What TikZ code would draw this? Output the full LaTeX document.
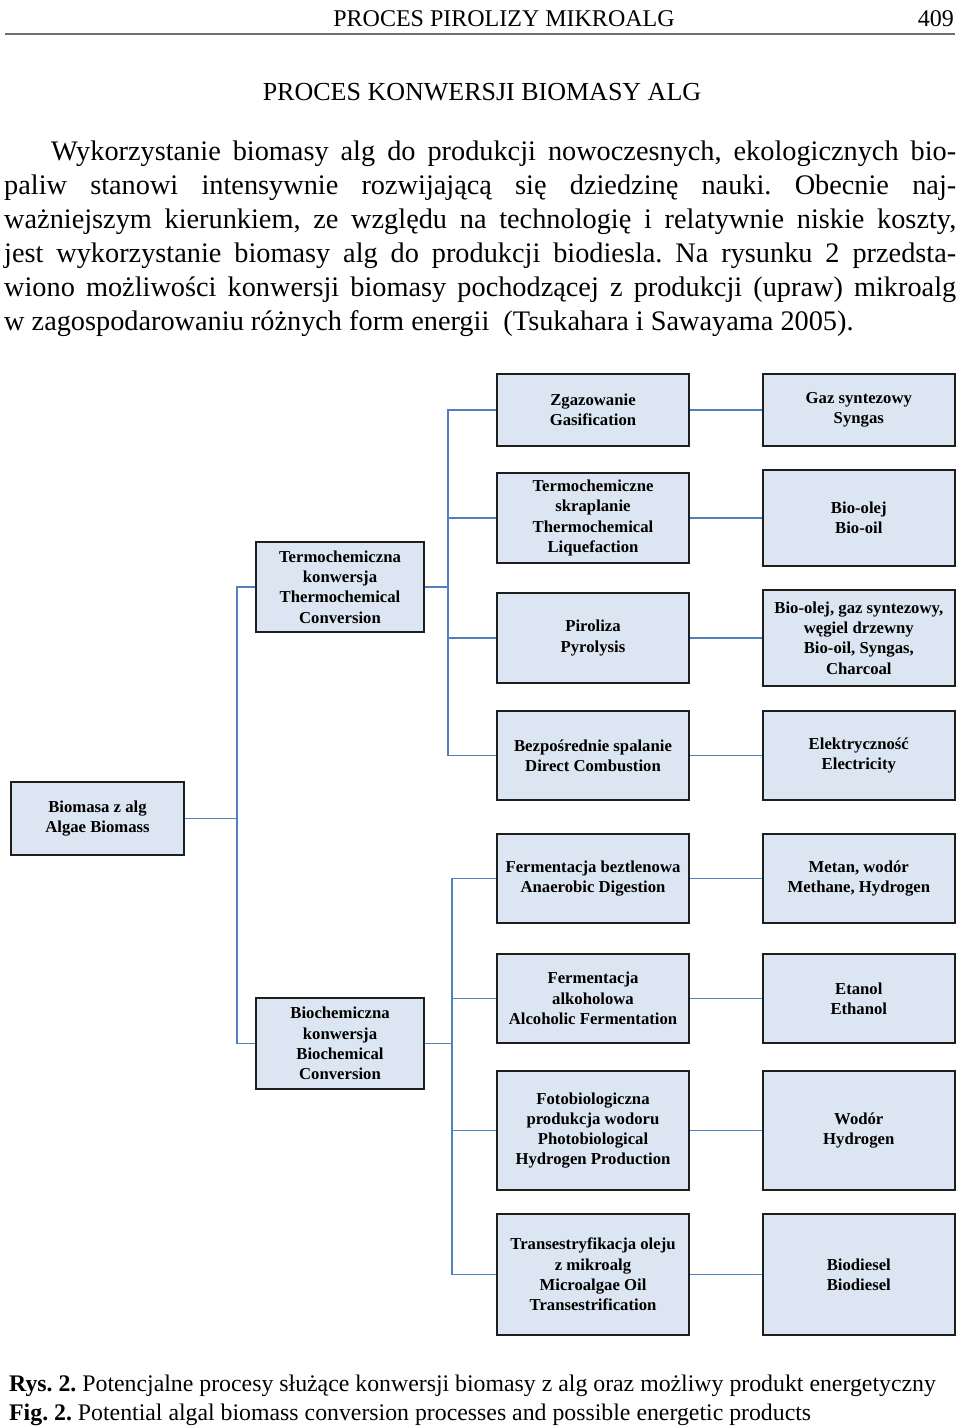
\documentclass[tikz,border=0pt]{standalone}
\usepackage{fontspec}
\setmainfont{Liberation Serif}
\usepackage{xcolor}
\usepackage{tikz}
\usetikzlibrary{positioning}
\frenchspacing
\definecolor{boxfill}{RGB}{220,230,242}
\definecolor{boxedge}{RGB}{30,30,30}
\definecolor{linkblue}{RGB}{79,129,189}
\definecolor{rulegray}{RGB}{110,110,110}

\begin{document}
\begin{tikzpicture}[
    x=1pt, y=-1pt,
    node distance=72pt,
    block/.style={rectangle, draw=boxedge, line width=1.8pt, fill=boxfill, minimum width=192pt, inner sep=0pt, align=center, font=\bfseries\fontsize{16.7}{20.3}\selectfont},
    link/.style={draw=linkblue, line width=1.4pt},
    para/.style={inner sep=0pt, align=left, font=\fontsize{28.3}{34}\selectfont},
    capt/.style={inner sep=0pt, anchor=base west, font=\fontsize{23.8}{29}\selectfont}
]
\path[use as bounding box, fill=white] (0,0) rectangle (960,1427);

\node[anchor=base, font=\fontsize{24}{28}\selectfont, inner sep=0pt] (runhead) at (504,26) {PROCES PIROLIZY MIKROALG};
\node[anchor=base east, font=\fontsize{24}{28}\selectfont, inner sep=0pt] (pageno) at (954,26) {409};
\draw[rulegray, line width=1.5pt] (5,34) -- (955,34);

\node[anchor=base, font=\fontsize{26}{30}\selectfont, inner sep=0pt] (title) at (482,100) {PROCES KONWERSJI BIOMASY ALG};

\node[para, anchor=north west] (intro) at (4,140.5) {%
\makebox[952pt][s]{\hspace{47pt}Wykorzystanie biomasy alg do produkcji nowoczesnych, ekologicznych bio-}\\
\makebox[952pt][s]{paliw stanowi intensywnie rozwijającą się dziedzinę nauki. Obecnie naj-}\\
\makebox[952pt][s]{ważniejszym kierunkiem, ze względu na technologię i relatywnie niskie koszty,}\\
\makebox[952pt][s]{jest wykorzystanie biomasy alg do produkcji biodiesla. Na rysunku 2 przedsta-}\\
\makebox[952pt][s]{wiono możliwości konwersji biomasy pochodzącej z produkcji (upraw) mikroalg}\\
w zagospodarowaniu różnych form energii\ \ (Tsukahara i Sawayama 2005).};

\node[block, minimum width=173pt, minimum height=73pt] (bio) at (97.5,818.5) {Biomasa z alg\\Algae Biomass};
\node[block, minimum width=168pt, minimum height=90pt] (thermo) at (340,587) {Termochemiczna\\konwersja\\Thermochemical\\Conversion};
\node[block, minimum width=168pt, minimum height=91pt] (biochem) at (340,1043.5) {Biochemiczna\\konwersja\\Biochemical\\Conversion};

\node[block, minimum height=72pt] (gas) at (593,410) {Zgazowanie\\Gasification};
\node[block, minimum height=90pt] (liq) at (593,518) {Termochemiczne\\skraplanie\\Thermochemical\\Liquefaction};
\node[block, minimum height=90pt] (pyr) at (593,638) {Piroliza\\Pyrolysis};
\node[block, minimum height=89pt] (dir) at (593,755.5) {Bezpośrednie spalanie\\Direct Combustion};
\node[block, minimum height=89pt] (ana) at (593,878.5) {Fermentacja beztlenowa\\Anaerobic Digestion};
\node[block, minimum height=89pt] (alc) at (593,998.5) {Fermentacja\\alkoholowa\\Alcoholic Fermentation};
\node[block, minimum height=119pt] (pho) at (593,1130.5) {Fotobiologiczna\\produkcja wodoru\\Photobiological\\Hydrogen Production};
\node[block, minimum height=121pt] (tra) at (593,1274.5) {Transestryfikacja oleju\\z mikroalg\\Microalgae Oil\\Transestrification};

\node[block, minimum height=72pt, right=of gas] (syngas) {Gaz syntezowy\\Syngas};
\node[block, minimum height=96pt, right=of liq] (biooil) {Bio-olej\\Bio-oil};
\node[block, minimum height=96pt, right=of pyr] (charcoal) {Bio-olej, gaz syntezowy,\\węgiel drzewny\\Bio-oil, Syngas,\\Charcoal};
\node[block, minimum height=89pt, right=of dir] (elec) {Elektryczność\\Electricity};
\node[block, minimum height=89pt, right=of ana] (methane) {Metan, wodór\\Methane, Hydrogen};
\node[block, minimum height=89pt, right=of alc] (ethanol) {Etanol\\Ethanol};
\node[block, minimum height=119pt, right=of pho] (hydrogen) {Wodór\\Hydrogen};
\node[block, minimum height=121pt, right=of tra] (biodiesel) {Biodiesel\\Biodiesel};

\coordinate (trunk) at (237,818.5);
\coordinate (tbus) at (448,587);
\coordinate (bbus) at (452,1043.5);

\draw[link] (bio.east) -- (trunk);
\draw[link] (thermo.west) -| (trunk) |- (biochem.west);
\draw[link] (thermo.east) -- (tbus);
\draw[link] (tbus) |- (gas.west);
\draw[link] (tbus) |- (liq.west);
\draw[link] (tbus) |- (pyr.west);
\draw[link] (tbus) |- (dir.west);
\draw[link] (biochem.east) -- (bbus);
\draw[link] (bbus) |- (ana.west);
\draw[link] (bbus) |- (alc.west);
\draw[link] (bbus) |- (pho.west);
\draw[link] (bbus) |- (tra.west);
\draw[link] (gas) -- (syngas);
\draw[link] (liq) -- (biooil);
\draw[link] (pyr) -- (charcoal);
\draw[link] (dir) -- (elec);
\draw[link] (ana) -- (methane);
\draw[link] (alc) -- (ethanol);
\draw[link] (pho) -- (hydrogen);
\draw[link] (tra) -- (biodiesel);

\node[capt] (rys) at (9,1391) {\textbf{Rys. 2.} Potencjalne procesy służące konwersji biomasy z alg oraz możliwy produkt energetyczny};
\node[capt] (fig) at (9,1420) {\textbf{Fig. 2.} Potential algal biomass conversion processes and possible energetic products};

\end{tikzpicture}
\end{document}
